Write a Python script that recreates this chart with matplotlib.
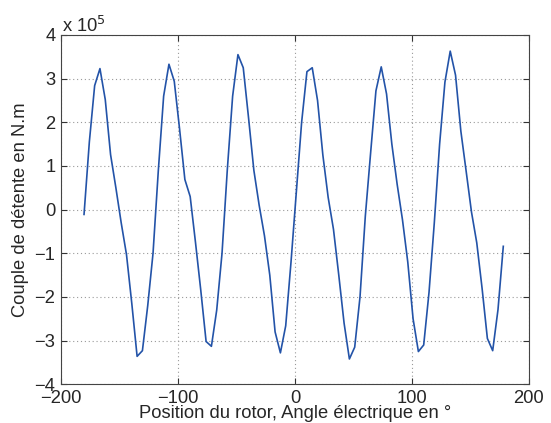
import numpy as np
import matplotlib
matplotlib.use("Agg")
import matplotlib.pyplot as plt
from matplotlib.ticker import FuncFormatter

# rotor angle grid (electrical degrees), 80 samples
angle_start = -180.3
angle_end = 178.2
n_samples = 80

# cogging torque, in units of 1e5 N.m
torque_1e5 = [
    -0.11, 1.55, 2.84, 3.23, 2.52, 1.26, 0.50, -0.30, -1.03, -2.15,
    -3.36, -3.23, -2.20, -1.00, 0.90, 2.60, 3.33, 2.94, 1.85, 0.69,
    0.30, -0.75, -1.85, -3.02, -3.13, -2.30, -1.00, 0.92, 2.60, 3.55,
    3.25, 2.10, 0.90, 0.10, -0.60, -1.50, -2.80, -3.28, -2.66, -1.20,
    0.40, 2.00, 3.16, 3.25, 2.50, 1.25, 0.28, -0.45, -1.50, -2.60,
    -3.42, -3.15, -2.00, -0.15, 1.30, 2.72, 3.27, 2.65, 1.50, 0.58,
    -0.23, -1.20, -2.50, -3.25, -3.10, -1.90, -0.30, 1.50, 2.92, 3.63,
    3.08, 1.80, 0.88, -0.05, -0.76, -1.80, -2.95, -3.23, -2.29, -0.84,
]

x_ticks = [-200, -100, 0, 100, 200]
y_ticks = [-4e5, -3e5, -2e5, -1e5, 0, 1e5, 2e5, 3e5, 4e5]

angle = np.linspace(angle_start, angle_end, n_samples)
torque = np.array(torque_1e5) * 1e5

plt.rcParams['font.family'] = ['Liberation Sans', 'DejaVu Sans']
plt.rcParams['font.size'] = 13.2

fig = plt.figure(figsize=(5.51, 4.23), dpi=100)
ax = fig.add_axes([0.1107, 0.0915, 0.849, 0.8258])

ax.plot(angle, torque, color='#2353a8', linewidth=1.2)

ax.set_xlim(-200, 200)
ax.set_ylim(-4e5, 4e5)
ax.set_xticks(x_ticks)
ax.set_yticks(y_ticks)
ax.yaxis.set_major_formatter(FuncFormatter(lambda v, p: '%g' % (v / 1e5) if v >= 0 else '\u2212%g' % (-v / 1e5)))

ax.grid(True, linestyle=(0, (1, 2.5)), color='#9a9a9a', linewidth=0.8)
ax.tick_params(direction='in', length=4, width=0.8, top=True, right=True,
               colors='#333333', labelcolor='#262626', pad=4)
for s in ax.spines.values():
    s.set_color('#444444')
    s.set_linewidth(0.8)

ax.set_xlabel('Position du rotor, Angle \u00e9lectrique en \u00b0', labelpad=-1, color='#262626')
ax.set_ylabel('Couple de d\u00e9tente en N.m', labelpad=4, color='#262626')

# MATLAB-like exponent marker
fig.text(0.112, 0.925, 'x 10$^{5}$', fontsize=13.2, color='#262626')

fig.savefig('out.png', dpi=100)
